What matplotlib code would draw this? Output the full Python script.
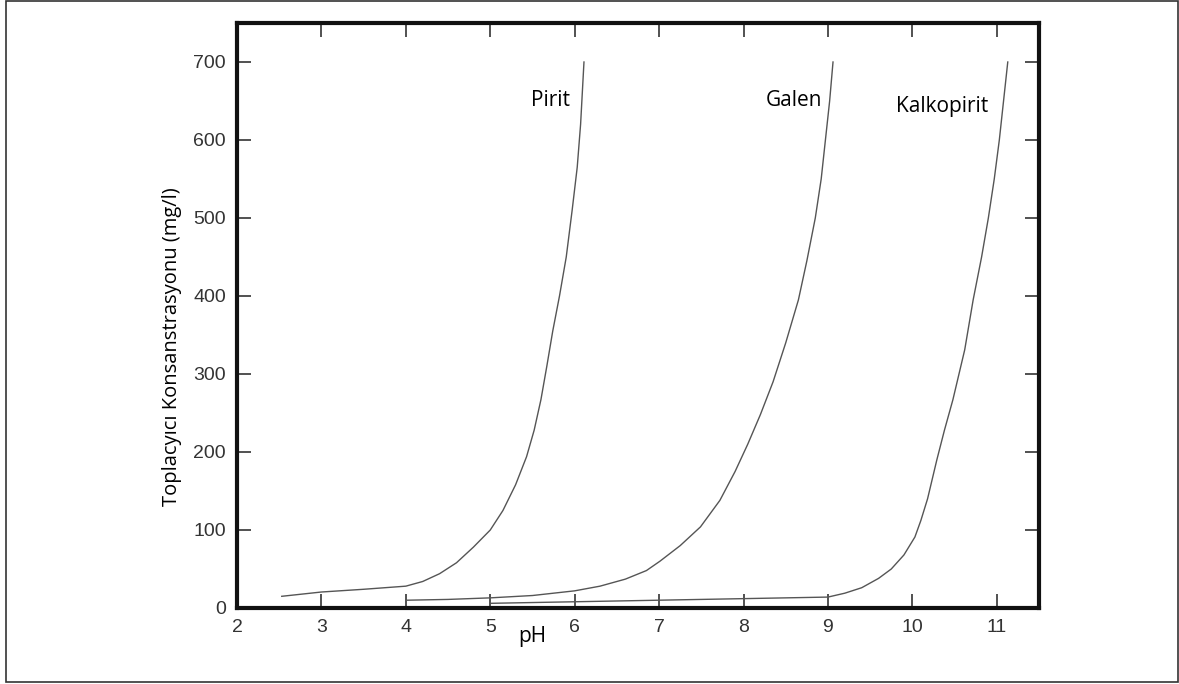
import matplotlib
matplotlib.use("Agg")
import matplotlib.pyplot as plt
from matplotlib.patches import Rectangle

# Data
pirit_ph = [2.53, 3.0, 3.5, 4.0, 4.2, 4.4, 4.6, 4.8, 5.0, 5.15, 5.3, 5.43, 5.52, 5.6,
            5.67, 5.74, 5.82, 5.9, 5.97, 6.03, 6.07, 6.09, 6.11]
pirit_c = [15, 20.5, 24, 28, 34, 44, 58, 78, 100, 125, 158, 194, 228, 267,
           310, 355, 400, 450, 510, 565, 620, 660, 700]

galen_ph = [4.02, 4.5, 5.0, 5.5, 6.0, 6.3, 6.6, 6.85, 7.01, 7.25, 7.49, 7.72, 7.9, 8.05,
            8.2, 8.35, 8.5, 8.65, 8.75, 8.85, 8.92, 8.97, 9.02, 9.06]
galen_c = [10, 11, 13, 16, 22, 28, 37, 48, 60, 80, 104, 138, 175, 210,
           248, 290, 340, 395, 445, 500, 550, 600, 650, 700]

kalko_ph = [5.0, 6.0, 7.0, 8.0, 9.0, 9.2, 9.4, 9.6, 9.75, 9.9, 10.03, 10.1, 10.18, 10.29,
            10.38, 10.48, 10.62, 10.72, 10.82, 10.9, 10.97, 11.03, 11.08, 11.13]
kalko_c = [6, 8, 10, 12, 14, 19, 26, 38, 50, 68, 91, 112, 140, 190,
           228, 267, 331, 395, 450, 500, 550, 600, 650, 700]

x_ticks = [2, 3, 4, 5, 6, 7, 8, 9, 10, 11]
y_ticks = [0, 100, 200, 300, 400, 500, 600, 700]
curve_labels = ["Pirit", "Galen", "Kalkopirit"]

W, H = 1179, 684
fig = plt.figure(figsize=(W / 100, H / 100), dpi=100)
ax = fig.add_axes([237 / W, 1 - 608 / H, (1039 - 237) / W, (608 - 23) / H])

line_color = "#555555"
for xs, ys in [(pirit_ph, pirit_c), (galen_ph, galen_c), (kalko_ph, kalko_c)]:
    ax.plot(xs, ys, color=line_color, lw=1.0, solid_joinstyle="round")

ax.set_xlim(2, 11.5)
ax.set_ylim(0, 750)
ax.set_xticks(x_ticks)
ax.set_yticks(y_ticks)
ax.tick_params(direction="in", length=10, width=1.2, color="#333333",
               top=True, right=True, labelsize=14, labelcolor="#333333",
               labelfontfamily="Liberation Sans")
ax.tick_params(axis="y", pad=8)
ax.tick_params(axis="x", pad=8)
for s in ax.spines.values():
    s.set_linewidth(3)
    s.set_color("#111111")

ax.set_ylabel("Toplacyıcı Konsanstrasyonu (mg/l)", fontsize=14.5, family="Open Sans",
              color="#000000")
ax.yaxis.set_label_coords(-0.069, 0.446)

# pH label sits in the tick-label row
ax.text(5.5, -36, "pH", ha="center", va="center", fontsize=15, family="Open Sans",
        color="#000000")

label_pos = [(5.71, 650), (8.6, 650), (10.35, 643)]
for lab, (lx, ly) in zip(curve_labels, label_pos):
    ax.text(lx, ly, lab, ha="center", va="center", fontsize=15, family="Open Sans",
            color="#000000")

fig.add_artist(Rectangle((6 / W, 1 - 682 / H), (1178 - 6) / W, (682 - 1) / H,
                         transform=fig.transFigure, fill=False, lw=1.2,
                         edgecolor="#333333"))

fig.savefig("out.png", dpi=100)
